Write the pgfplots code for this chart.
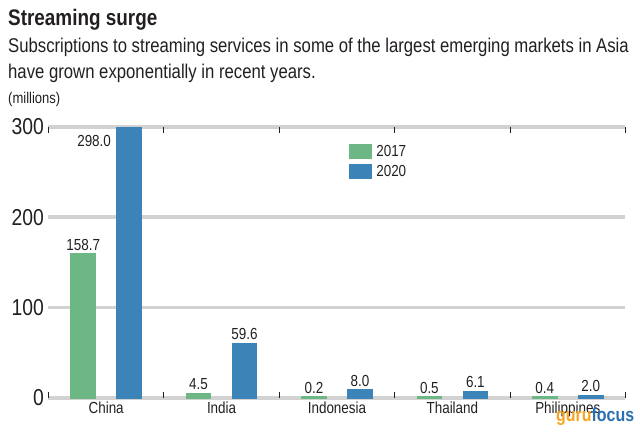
\documentclass[border=0pt]{standalone}
\usepackage{fontspec}
\setmainfont{Liberation Sans}[FakeStretch=0.84]
\usepackage{pgfplots}
\pgfplotsset{compat=1.18}
\definecolor{cgreen}{HTML}{6DB784}
\definecolor{cblue}{HTML}{3C84B8}
\definecolor{cgrid}{HTML}{D2D2D2}
\definecolor{ctext}{HTML}{231F20}
\definecolor{guruor}{HTML}{F5A623}
\definecolor{gurubl}{HTML}{2A6FB0}
\begin{document}
\begin{tikzpicture}[x=1bp,y=1bp]
\useasboundingbox (0,0) rectangle (640,434);
\node[anchor=base west,inner sep=0,text=ctext,font=\fontsize{22.5bp}{24bp}\selectfont\bfseries] at (8,408) {Streaming surge};
\node[anchor=base west,inner sep=0,text=ctext,font=\fontsize{19.9bp}{22bp}\selectfont] at (8,381) {Subscriptions to streaming services in some of the largest emerging markets in Asia};
\node[anchor=base west,inner sep=0,text=ctext,font=\fontsize{19.9bp}{22bp}\selectfont] at (8,355) {have grown exponentially in recent years.};
\node[anchor=base west,inner sep=0,text=ctext,font=\fontsize{15.5bp}{17bp}\selectfont] at (8,330) {(millions)};
\begin{axis}[
  at={(42,40)}, anchor=south west,
  scale only axis, width=577bp, height=271bp,
  xmin=-0.5, xmax=4.5, ymin=0, ymax=300,
  axis line style={draw=none},
  ybar, bar width=23bp,
  xtick={0,1,2,3,4},
  xticklabels={China,India,Indonesia,Thailand,Philippines},
  ytick={0,100,200,300},
  ymajorgrids,
  grid style={cgrid, line width=3.5bp},
  major tick length=0pt,
  tick label style={text=ctext},
  x tick label style={font=\fontsize{16bp}{18bp}\selectfont, yshift=-1bp},
  y tick label style={font=\fontsize{23bp}{25bp}\selectfont, xshift=-1bp},
  /pgf/number format/assume math mode=true,
  extra x ticks={-0.5,0.5,1.5,2.5,3.5,4.5},
  extra x tick labels={},
  extra x tick style={grid=none, major tick length=6bp, tick align=inside,
     tick style={ctext, line width=0.8bp}},
  legend style={draw=none, fill=none, at={(0.515,0.947)}, anchor=north west,
     font=\fontsize{16bp}{18bp}\selectfont, text=ctext, row sep=3bp},
  legend image code/.code={\fill[#1] (0bp,-6bp) rectangle (21bp,6bp);},
  nodes near coords,
  every node near coord/.append style={font=\fontsize{16bp}{18bp}\selectfont, text=ctext, inner sep=2bp, yshift=1bp},
  nodes near coords style={/pgf/number format/.cd, fixed, fixed zerofill, precision=1},
  clip=false,
]
\addplot[fill=cgreen, draw=cgreen, line width=2.5bp, bar shift=-23bp] coordinates {(0,158.7) (1,4.5) (2,0.2) (3,0.5) (4,0.4)};
\addplot[fill=cblue, draw=cblue, line width=2.5bp, bar shift=23bp,
  coordinate style/.condition={x<0.5}{anchor=north east, xshift=-15bp, yshift=-4bp},
  ] coordinates {(0,298.0) (1,59.6) (2,8.0) (3,6.1) (4,2.0)};
\legend{\hspace{2bp}2017,\hspace{2bp}2020}
\end{axis}
\node[anchor=base west,inner sep=0,font=\fontsize{19bp}{21bp}\selectfont\bfseries] at (556,12) {\textcolor{guruor}{guru}\textcolor{gurubl}{focus}};
\end{tikzpicture}
\end{document}
